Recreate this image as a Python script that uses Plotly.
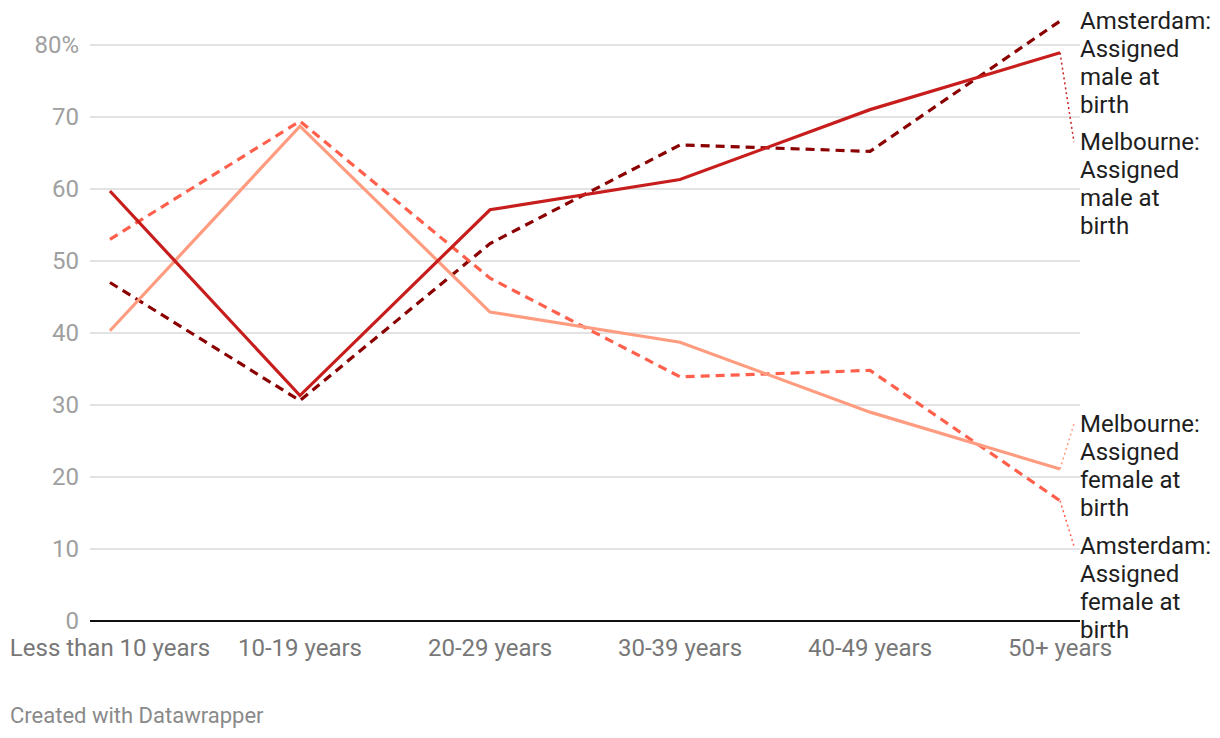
import plotly.graph_objects as go

categories = ["Less than 10 years", "10-19 years", "20-29 years",
              "30-39 years", "40-49 years", "50+ years"]
melb_male = [59.7, 31.3, 57.1, 61.3, 71.0, 78.9]
melb_female = [40.3, 68.7, 42.9, 38.7, 29.0, 21.1]
ams_male = [47.0, 30.6, 52.4, 66.1, 65.2, 83.3]
ams_female = [53.0, 69.4, 47.6, 33.9, 34.8, 16.7]

y_tickvals = [0, 10, 20, 30, 40, 50, 60, 70, 80]
y_ticktext = ["0", "10", "20", "30", "40", "50", "60", "70", "80%"]

series = [
    ("Amsterdam: Assigned male at birth", ams_male, "#8b0000", "9px,6px"),
    ("Amsterdam: Assigned female at birth", ams_female, "#ff5f4b", "9px,6px"),
    ("Melbourne: Assigned female at birth", melb_female, "#ff9c80", "solid"),
    ("Melbourne: Assigned male at birth", melb_male, "#c71e1d", "solid"),
]

# label first-line positions (in y units), layout only
label_first_y = {
    "Amsterdam: Assigned male at birth": 83.3,
    "Melbourne: Assigned male at birth": 66.5,
    "Melbourne: Assigned female at birth": 27.4,
    "Amsterdam: Assigned female at birth": 10.4,
}
label_lines = {
    "Amsterdam: Assigned male at birth": ["Amsterdam:", "Assigned", "male at", "birth"],
    "Melbourne: Assigned male at birth": ["Melbourne:", "Assigned", "male at", "birth"],
    "Melbourne: Assigned female at birth": ["Melbourne:", "Assigned", "female at", "birth"],
    "Amsterdam: Assigned female at birth": ["Amsterdam:", "Assigned", "female at", "birth"],
}

x_range = [-0.105, len(categories) - 1 + 0.105]
y_range = [0, 84]
FONT = "Roboto, 'Noto Sans', sans-serif"
PLOT_W, PLOT_H = 990, 605

fig = go.Figure()
for name, vals, color, dash in series:
    fig.add_trace(go.Scatter(
        x=list(range(len(categories))), y=vals, mode="lines", name=name,
        line=dict(color=color, width=3.2, dash=dash), showlegend=False,
        hoverinfo="skip",
    ))

annotations = []
shapes = []
line_px = 28.0
px_per_unit = PLOT_H / (y_range[1] - y_range[0])
last_x_paper = (len(categories) - 1 - x_range[0]) / (x_range[1] - x_range[0])
for name, vals, color, dash in series:
    first = label_first_y[name]
    for i, txt in enumerate(label_lines[name]):
        yv = first - i * line_px / px_per_unit
        annotations.append(dict(
            text=txt, xref="paper", yref="paper", x=1.0,
            y=(yv - y_range[0]) / (y_range[1] - y_range[0]),
            xanchor="left", yanchor="middle", align="left", showarrow=False,
            font=dict(family=FONT, size=24, color="#1e1e1e"), xshift=-2,
        ))
    if abs(first - vals[-1]) > 1.0:
        shapes.append(dict(
            type="line", xref="paper", yref="y",
            x0=last_x_paper, y0=vals[-1], x1=1.0 - 6 / PLOT_W, y1=first,
            line=dict(color=color, width=1.5, dash="2px,3px"),
        ))

annotations.append(dict(
    text="Created with Datawrapper", xref="paper", yref="paper",
    x=-82 / PLOT_W, y=-(715 - 621) / PLOT_H, xanchor="left", yanchor="middle",
    showarrow=False, font=dict(family=FONT, size=22, color="#8a8a8a"),
))

fig.update_layout(
    width=1210, height=722,
    margin=dict(l=82, r=138, t=8, b=109, autoexpand=False),
    paper_bgcolor="white", plot_bgcolor="white",
    font=dict(family=FONT),
    annotations=annotations, shapes=shapes,
    xaxis=dict(
        range=x_range, tickvals=list(range(len(categories))),
        ticktext=categories, showgrid=False, zeroline=False, showline=False,
        ticks="", tickfont=dict(size=24, color="#777777"),
        ticklabelstandoff=10, automargin=False,
    ),
    yaxis=dict(
        range=y_range, tickvals=y_tickvals, ticktext=y_ticktext,
        showgrid=True, gridcolor="#e3e3e3", gridwidth=1.5,
        zeroline=True, zerolinecolor="#111111", zerolinewidth=2,
        showline=False, ticks="", tickfont=dict(size=24, color="#a0a0a0"),
        ticklabelstandoff=10, automargin=False,
    ),
)

fig.write_html("out.html")
